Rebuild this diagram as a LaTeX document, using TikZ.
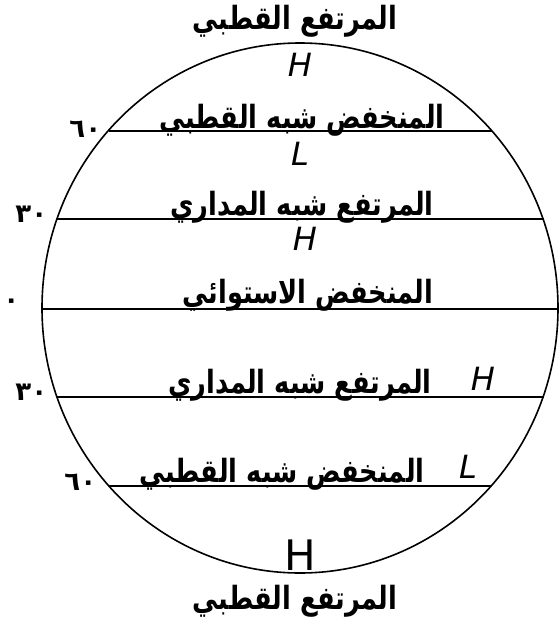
\documentclass[tikz,border=0pt]{standalone}
\usepackage{fontspec}
\newfontfamily\arabicfont[Script=Arabic, FakeStretch=0.8]{DejaVu Sans}
\newfontfamily\degfont[Script=Arabic]{DejaVu Sans}
\newfontfamily\hfont{DejaVu Sans}
\TeXXeTstate=1
\begin{document}
\begin{tikzpicture}[x=1pt,y=-1pt, line width=1.6pt,
  zone/.style={font=\arabicfont\bfseries\fontsize{32}{34}\selectfont, inner sep=0pt, anchor=base},
  deg/.style={font=\degfont\bfseries\fontsize{26}{28}\selectfont, inner sep=0pt, anchor=base east},
  pres/.style={font=\hfont\itshape\fontsize{32}{34}\selectfont, inner sep=0pt, anchor=base}]
\useasboundingbox (0,0) rectangle (558,630);
% globe
\draw (300,308) ellipse (258pt and 265pt);
% latitude lines
\coordinate (n60l) at (109,131); \coordinate (n60r) at (492,131);
\coordinate (n30l) at (57,219);  \coordinate (n30r) at (544,219);
\coordinate (eql) at (42,309);   \coordinate (eqr) at (558,309);
\coordinate (s30l) at (57,397);  \coordinate (s30r) at (544,397);
\coordinate (s60l) at (109,486); \coordinate (s60r) at (491,486);
\draw (n60l) -- (n60r);
\draw (n30l) -- (n30r);
\draw (eql) -- (eqr);
\draw (s30l) -- (s30r);
\draw (s60l) -- (s60r);
% degree labels
\node[deg] (d60n) at (102,137) {٦٠};
\node[deg] (d30n) at (48,222) {٣٠};
\node[deg] (d0) at (20,308) {٠};
\node[deg] (d30s) at (48,400) {٣٠};
\node[deg] (d60s) at (97,490) {٦٠};
% zone names
\node[zone] (tnp) at (295,29) {\beginR المرتفع القطبي\endR};
\node[zone] (tn60) at (302,128) {\beginR المنخفض شبه القطبي\endR};
\node[zone] (tn30) at (302,215) {\beginR المرتفع شبه المداري\endR};
\node[zone] (teq) at (308,303) {\beginR المنخفض الاستوائي\endR};
\node[zone] (ts30) at (300,393) {\beginR المرتفع شبه المداري\endR};
\node[zone] (ts60) at (282,482) {\beginR المنخفض شبه القطبي\endR};
\node[zone] (tsp) at (295,609) {\beginR المرتفع القطبي\endR};
% pressure letters
\node[pres] (h1) at (300,76) {H};
\node[pres] (l1) at (300,165) {L};
\node[pres] (h2) at (305,250) {H};
\node[pres] (h3) at (483,390) {H};
\node[pres] (l2) at (468,478) {L};
\node[pres,font=\hfont\fontsize{42}{44}\selectfont] (h4) at (300,570) {H};
\end{tikzpicture}
\end{document}
